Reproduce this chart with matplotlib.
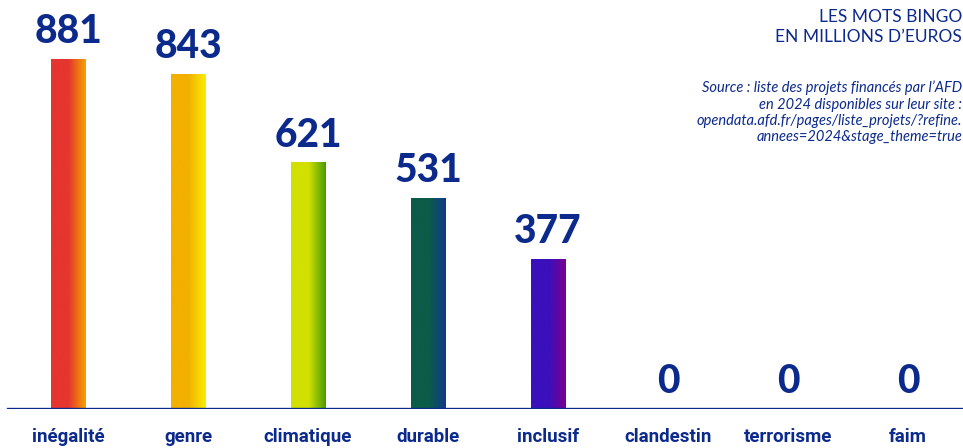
import numpy as np
import matplotlib.pyplot as plt
from matplotlib.colors import LinearSegmentedColormap

mots = ["inégalité", "genre", "climatique", "durable", "inclusif",
        "clandestin", "terrorisme", "faim"]
montants = [881, 843, 621, 531, 377, 0, 0, 0]
couleurs_gauche = ["#e5352f", "#f2b000", "#d2e000", "#0b5c48", "#3a10bc", "#3a10bc", "#3a10bc", "#3a10bc"]
couleurs_droite = ["#f5a300", "#f7ee00", "#479c00", "#103a8c", "#7c0090", "#7c0090", "#7c0090", "#7c0090"]

bleu = "#0b2a8c"

fig = plt.figure(figsize=(9.63, 4.48), dpi=100)
ax = fig.add_axes([0, 39 / 448, 1, 409 / 448])
ax.set_xlim(-68 / 120, (963 - 68) / 120)
ax.set_ylim(0, 409 / 0.397)

x = np.arange(len(mots))
barres = ax.bar(x, montants, width=0.285, color="none", edgecolor="none")

# dégradé horizontal dans chaque barre
grad = np.linspace(0, 1, 256).reshape(1, -1)
for b, c1, c2, v in zip(barres, couleurs_gauche, couleurs_droite, montants):
    if v <= 0:
        continue
    cmap = LinearSegmentedColormap.from_list("g", [(0, c1), (0.5, c1), (1, c2)])
    x0, w, h = b.get_x(), b.get_width(), b.get_height()
    ax.imshow(grad, cmap=cmap, aspect="auto", extent=(x0, x0 + w, 0, h),
              interpolation="bilinear", zorder=2)

for xi, v in zip(x, montants):
    ax.text(xi, v + 40, str(v), ha="center", va="baseline", fontsize=28,
            fontweight="black", family="Lato", color=bleu)

ax.axhline(0, xmin=8 / 963, xmax=1, color=bleu, lw=2.4, zorder=3)

ax.set_xticks(x)
ax.set_xticklabels(mots, fontsize=13.5, fontweight="bold", family="Roboto", color=bleu)
ax.tick_params(axis="x", length=0, pad=14)
ax.set_yticks([])
for s in ax.spines.values():
    s.set_visible(False)

fig.text(0.999, 0.98, "LES MOTS BINGO\nEN MILLIONS D\u2019EUROS", ha="right", va="top",
         fontsize=12.5, family="Lato", color=bleu, linespacing=1.3)
fig.text(0.999, 0.82, "Source : liste des projets financés par l\u2019AFD\n"
         "en 2024 disponibles sur leur site :\n"
         "opendata.afd.fr/pages/liste_projets/?refine.\n"
         "annees=2024&stage_theme=true",
         ha="right", va="top", fontsize=10.5, style="italic", family="Lato",
         color=bleu, linespacing=1.2)

fig.savefig("out.png", dpi=100)
